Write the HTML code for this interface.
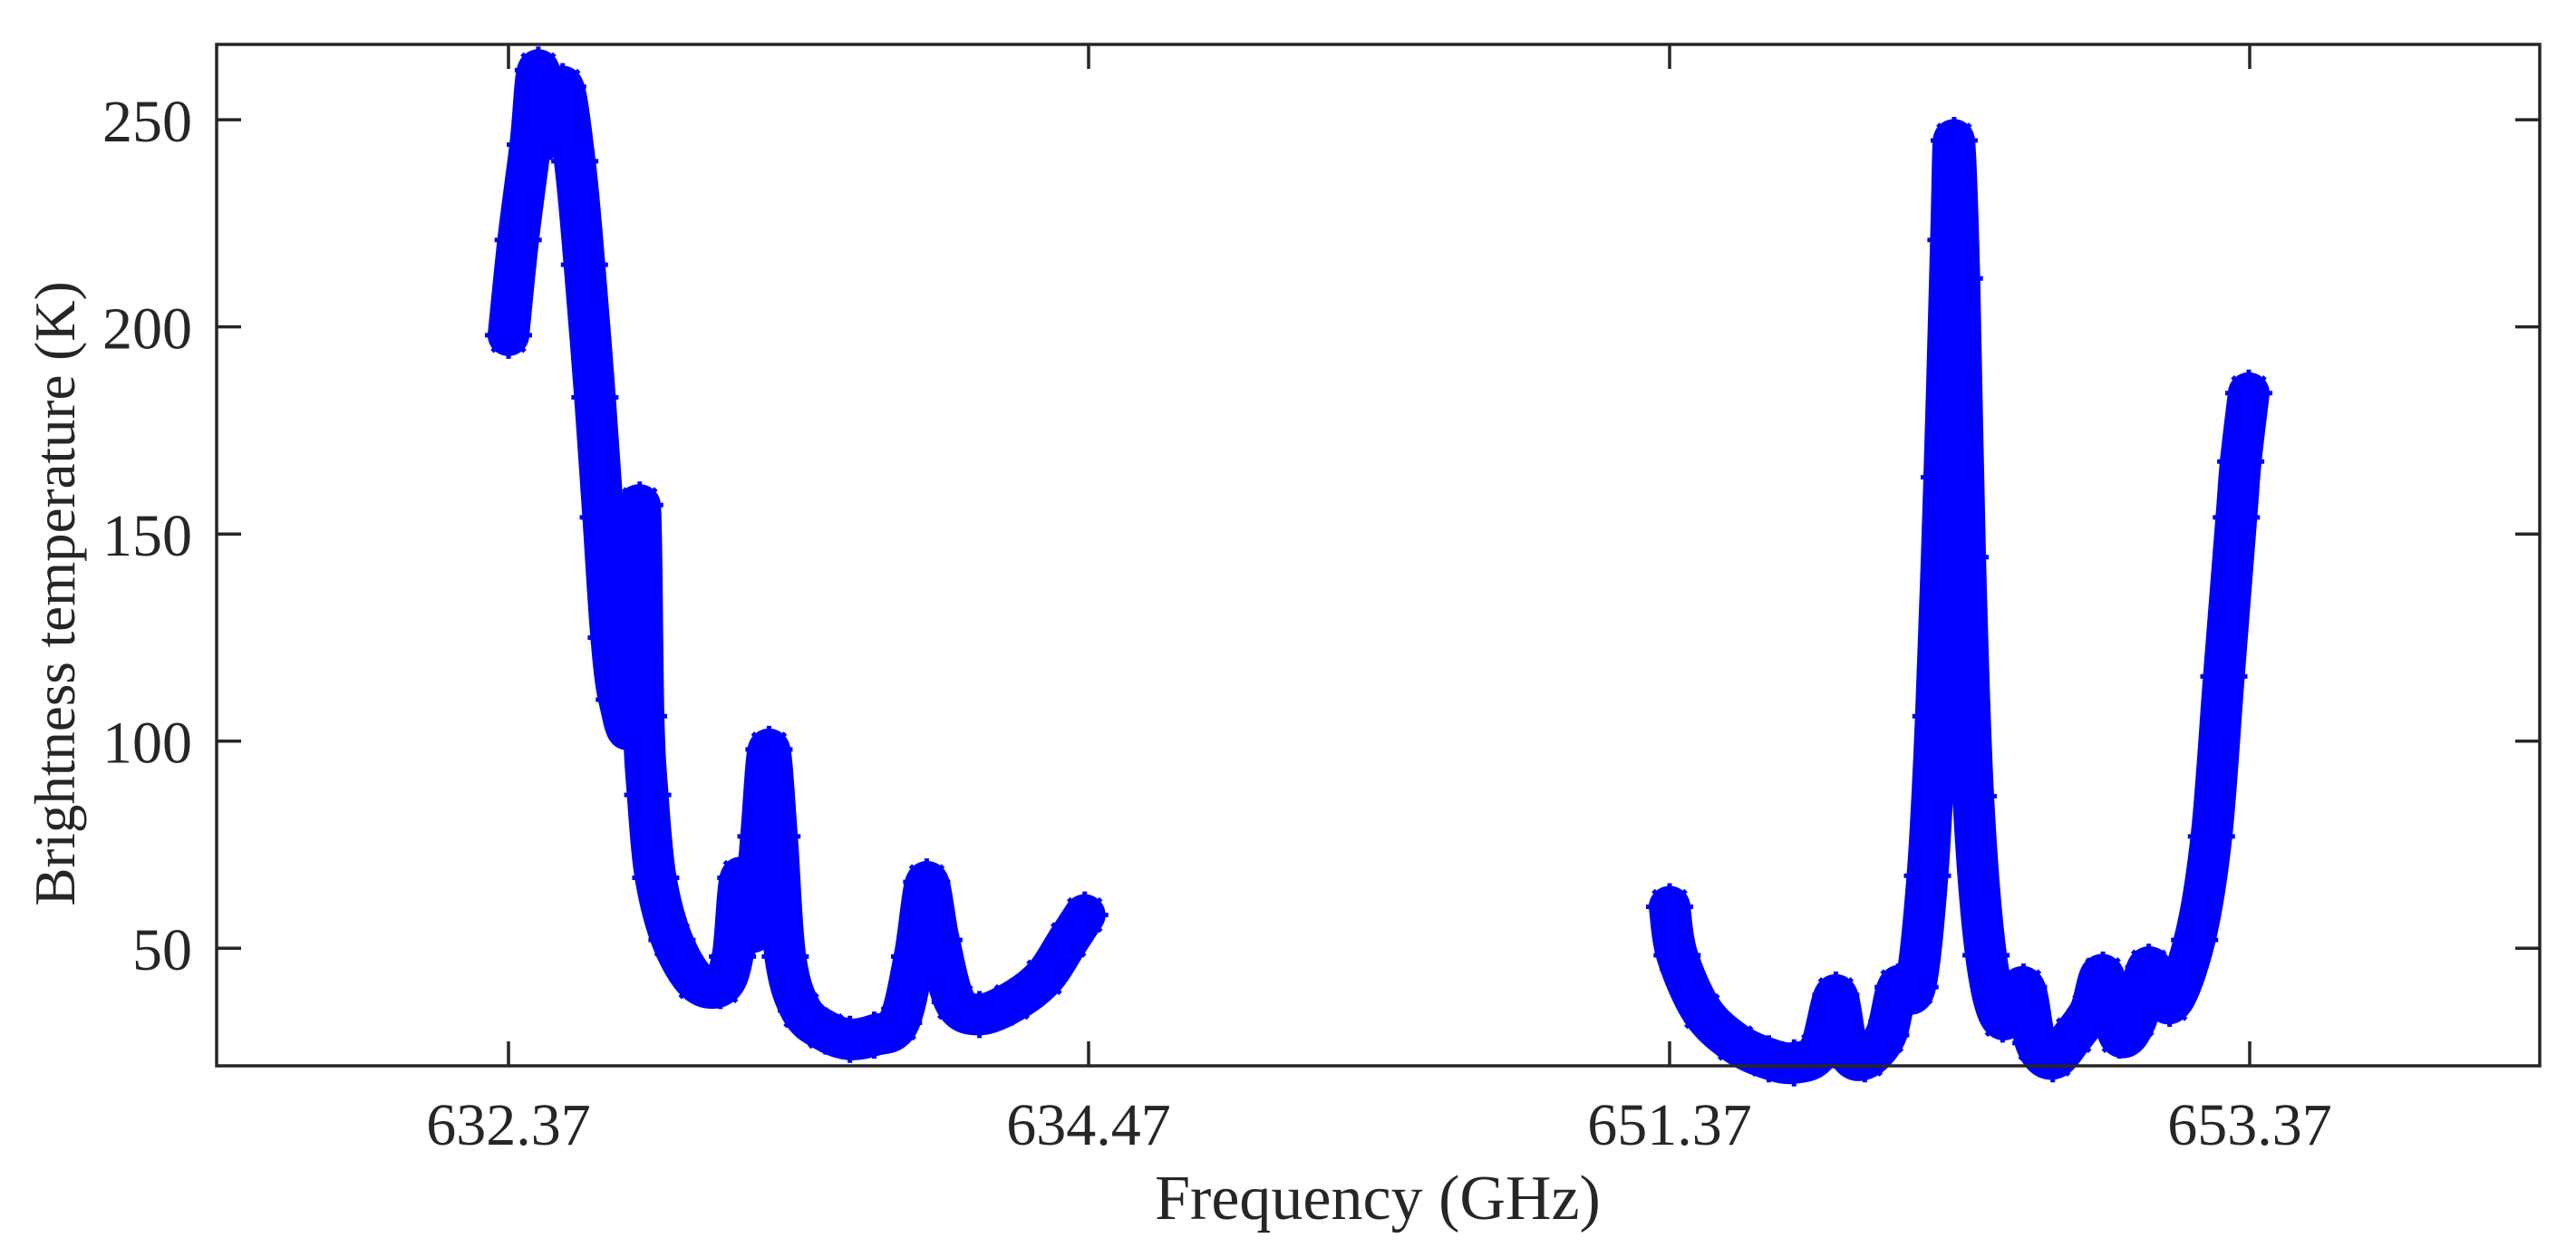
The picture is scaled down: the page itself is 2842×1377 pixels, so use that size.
<!DOCTYPE html>
<html><head><meta charset="utf-8"><style>
html,body{margin:0;padding:0;background:#fff;}
svg{display:block;}
text{font-family:"Liberation Serif",serif;fill:#262626;}
</style></head><body>
<svg id="chart" width="2842" height="1377" viewBox="0 0 2842 1377" xmlns="http://www.w3.org/2000/svg">
<rect x="0" y="0" width="2842" height="1377" fill="#fff"/>
<g id="series"></g>
<g id="axes"></g>
<text x="1520" y="1345" font-size="70" text-anchor="middle">Frequency (GHz)</text>
<text transform="translate(82,655) rotate(-90)" font-size="63" text-anchor="middle">Brightness temperature (K)</text>
</svg>
<script>
const xTickLabels = ["632.37","634.47","651.37","653.37"];
const yTicks = [50,100,150,200,250];
const leftFreq = [632.370,632.405,632.449,632.478,632.522,632.566,632.610,632.645,632.683,632.713,632.742,632.771,632.815,632.845,632.859,632.874,632.903,632.962,633.050,633.137,633.181,633.211,633.255,633.284,633.313,633.342,633.372,633.430,633.518,633.606,633.694,633.782,633.840,633.884,633.928,633.987,634.075,634.192,634.309,634.397,634.456];
const leftTemp = [198,221,244,262,246,258,240,215,183,154,125,110,106,157,106,87,67,52,42,41,48,67,54,77,98,77,48,35,30,28,29,32,48,66,52,37,34,37,43,52,58];
const rightFreq = [651.370,651.396,651.482,651.597,651.712,651.799,651.885,651.943,651.986,652.043,652.115,652.158,652.216,652.259,652.288,652.317,652.340,652.351,652.369,652.389,652.417,652.461,652.518,652.590,652.633,652.691,652.763,652.820,652.864,652.921,652.979,653.022,653.094,653.180,653.238,653.281,653.324,653.339,653.367];
const rightTemp = [60,48.3,34.8,27.1,23.3,22.3,25.2,38.7,25.2,23.3,29,40.6,40.6,67.5,106,163.7,221,245,211.7,144.4,86.7,48.3,32.9,40.6,27.1,23.3,29,34.8,43.5,29,32.9,45.4,36.7,52,77,115.6,154,167.5,184];

const L=239,R=2802,T=49,B=1176;
const yMin=21.6,yMax=268.2;
function yScale(v){return B-(v-yMin)/(yMax-yMin)*(B-T);}
function xScale(f){
  if(f<640) return 561+(f-632.37)*(1201-561)/2.1;
  return 1842+(f-651.37)*(2482-1842)/2.0;
}
const xTickPos=[632.37,634.47,651.37,653.37];
const NS="http://www.w3.org/2000/svg";
const axes=document.getElementById('axes');
const series=document.getElementById('series');
function mk(tag,attrs,parent){const e=document.createElementNS(NS,tag);for(const k in attrs)e.setAttribute(k,attrs[k]);parent.appendChild(e);return e;}
const col="#262626";

function smoothPath(p){
  let d=`M${p[0][0]},${p[0][1]}`;
  for(let i=0;i<p.length-1;i++){
    const p0=p[i-1]||p[i],p1=p[i],p2=p[i+1],p3=p[i+2]||p2;
    const c1=[p1[0]+(p2[0]-p0[0])/6,p1[1]+(p2[1]-p0[1])/6];
    const c2=[p2[0]-(p3[0]-p1[0])/6,p2[1]-(p3[1]-p1[1])/6];
    d+=`C${c1[0].toFixed(1)},${c1[1].toFixed(1)} ${c2[0].toFixed(1)},${c2[1].toFixed(1)} ${p2[0].toFixed(1)},${p2[1].toFixed(1)}`;
  }
  return d;
}
function drawSeg(fs,ts,name){
  const pts=fs.map((f,i)=>[xScale(f),yScale(ts[i])]);
  const pl=mk('path',{d:smoothPath(pts),fill:"none",stroke:"#0000ff","stroke-width":46,"stroke-linejoin":"round","stroke-linecap":"round"},series);
  
  
  fs.forEach((f,i)=>{
    const cx=xScale(f),cy=yScale(ts[i]),r=26,d=18;
    const p=mk('path',{d:`M${cx-r},${cy}H${cx+r}M${cx},${cy-r}V${cy+r}M${cx-d},${cy-d}L${cx+d},${cy+d}M${cx-d},${cy+d}L${cx+d},${cy-d}`,stroke:"#0000ff","stroke-width":5,fill:"none"},series);
    
    
  });
}
drawSeg(leftFreq,leftTemp,'left-band');
drawSeg(rightFreq,rightTemp,'right-band');

const frame=mk('rect',{x:L,y:T,width:R-L,height:B-T,fill:"none",stroke:col,"stroke-width":3.5},axes);


xTickPos.forEach((f,i)=>{
  const x=xScale(f);
  const t1=mk('line',{x1:x,x2:x,y1:B,y2:B-27,stroke:col,"stroke-width":3.5},axes);
  
  
  const t2=mk('line',{x1:x,x2:x,y1:T,y2:T+27,stroke:col,"stroke-width":3.5},axes);
  
  
  const tx=mk('text',{x:x,y:1263,"font-size":66,"text-anchor":"middle"},axes);
  tx.textContent=xTickLabels[i];
  
  
});
yTicks.forEach(v=>{
  const y=yScale(v);
  const t1=mk('line',{x1:L,x2:L+27,y1:y,y2:y,stroke:col,"stroke-width":3.5},axes);
  
  
  const t2=mk('line',{x1:R,x2:R-27,y1:y,y2:y,stroke:col,"stroke-width":3.5},axes);
  
  
  const tx=mk('text',{x:212,y:y+24,"font-size":66,"text-anchor":"end"},axes);
  tx.textContent=String(v);
  
  
});
</script>
</body></html>
